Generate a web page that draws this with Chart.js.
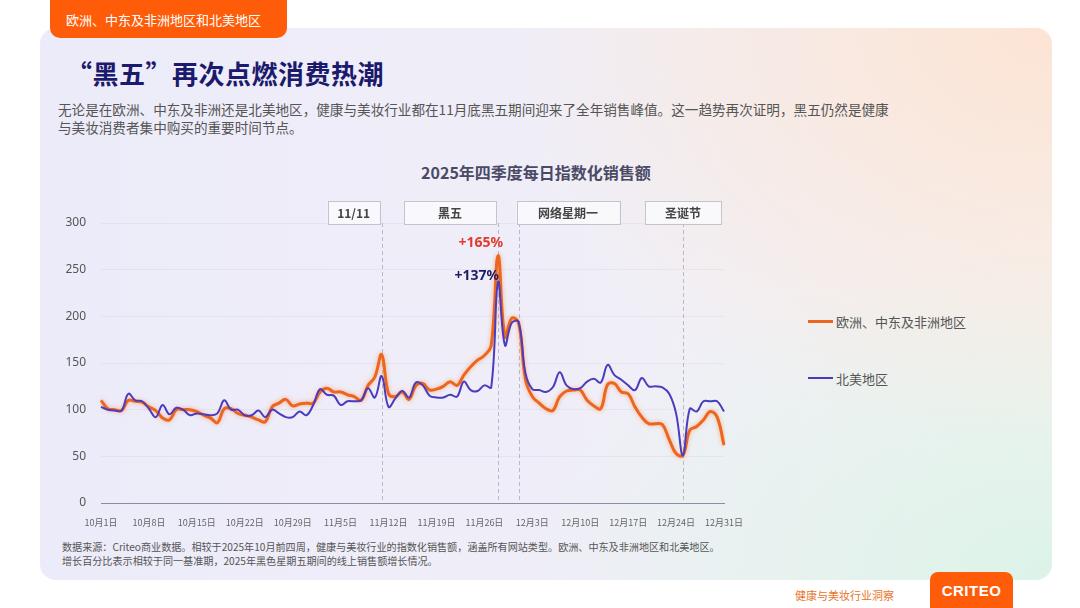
<!DOCTYPE html>
<html lang="zh">
<head>
    <meta charset="UTF-8">
    <title>“黑五”再次点燃消费热潮</title>
    <script src="https://cdn.jsdelivr.net/npm/chart.js"></script>
    <style>
        body {
            margin: 0;
            width: 1080px;
            height: 608px;
            overflow: hidden;
            background: #fff;
            font-family: "Noto Sans CJK SC", "Noto Sans", sans-serif;
        }

        .card {
            position: absolute;
            left: 40px;
            top: 28px;
            width: 1012px;
            height: 552px;
            border-radius: 16px;
            background:
                radial-gradient(ellipse 560px 420px at 100% 0%, rgba(252, 228, 212, 1), rgba(252, 228, 212, 0)),
                radial-gradient(ellipse 520px 340px at 100% 100%, rgba(220, 243, 232, 1), rgba(220, 243, 232, 0)),
                linear-gradient(90deg, #ecebf9 0%, #efeef8 50%, #f5f3f3 100%);
        }

        .tab {
            position: absolute;
            left: 50px;
            top: 0;
            width: 237px;
            height: 38px;
            background: #ff5c0a;
            border-radius: 0 0 10px 10px;
            color: #fff;
            font-size: 13px;
            line-height: 40px;
            padding-left: 16px;
            box-sizing: border-box;
            z-index: 2;
        }

        .title {
            position: absolute;
            left: 66px;
            top: 54px;
            font-size: 26px;
            font-weight: bold;
            color: #1c1a6c;
            letter-spacing: 0.5px;
        }

        .intro {
            position: absolute;
            left: 58px;
            top: 100px;
            font-size: 13.6px;
            line-height: 18px;
            color: #555;
        }

        .chart-title {
            position: absolute;
            left: 0;
            width: 1072px;
            top: 160px;
            text-align: center;
            font-size: 16px;
            font-weight: bold;
            color: #4a4a66;
        }

        .legend {
            position: absolute;
            left: 808px;
            top: 311px;
            font-size: 13px;
            color: #555;
        }

        .legend div {
            display: flex;
            align-items: center;
            height: 20px;
            margin-bottom: 37px;
        }

        .legend span.swatch {
            display: inline-block;
            width: 25px;
            margin-right: 3px;
        }

        .note {
            position: absolute;
            left: 62px;
            top: 540px;
            font-size: 10.1px;
            line-height: 14px;
            color: #555;
        }

        .footer-text {
            position: absolute;
            left: 795px;
            top: 587px;
            font-size: 11px;
            color: #e8742a;
        }

        .logo {
            position: absolute;
            left: 930px;
            top: 572px;
            width: 83px;
            height: 36px;
            background: #ff5c0a;
            border-radius: 8px 8px 0 0;
            color: #fff;
            font-family: "Liberation Sans", Arial, sans-serif;
            font-weight: bold;
            font-size: 15px;
            line-height: 38px;
            text-align: center;
            letter-spacing: 0.5px;
        }

        .chart-wrap {
            position: absolute;
            left: 0;
            top: 0;
            width: 1080px;
            height: 608px;
            pointer-events: none;
        }
    </style>
</head>
<body>
    <div class="card"></div>
    <div class="tab">欧洲、中东及非洲地区和北美地区</div>

    <div class="title">“黑五”再次点燃消费热潮</div>
    <div class="intro">
        无论是在欧洲、中东及非洲还是北美地区，健康与美妆行业都在11月底黑五期间迎来了全年销售峰值。这一趋势再次证明，黑五仍然是健康<br>
        与美妆消费者集中购买的重要时间节点。
    </div>

    <div class="chart-title">2025年四季度每日指数化销售额</div>

    <div class="legend" id="legend"></div>

    <div class="note">
        数据来源：Criteo商业数据。相较于2025年10月前四周，健康与美妆行业的指数化销售额，涵盖所有网站类型。欧洲、中东及非洲地区和北美地区。<br>
        增长百分比表示相较于同一基准期，2025年黑色星期五期间的线上销售额增长情况。
    </div>

    <div class="footer-text">健康与美妆行业洞察</div>
    <div class="logo">CRITEO</div>

    <div class="chart-wrap">
        <canvas id="salesChart"></canvas>
    </div>

    <script>
        // Categories: every day of Q4 2025
        const months = [10, 11, 12];
        const monthDays = [31, 30, 31];
        const days = [];
        months.forEach((m, k) => {
            for (let d = 1; d <= monthDays[k]; d++) days.push(m + '月' + d + '日');
        });

        // Indexed daily sales
        const emeaName = '欧洲、中东及非洲地区';
        const emeaValues = [
            110, 101, 100, 99, 110, 109, 108, 103, 99, 91, 89, 100, 100, 100, 98, 94, 91, 86, 101, 101,
            96, 94, 92, 89, 87, 103, 107, 111, 104, 106, 107, 107, 119, 123, 119, 119, 116, 114, 110, 126,
            135, 159, 117, 114, 119, 111, 126, 128, 121, 122, 125, 130, 126, 137, 146, 153, 158, 169, 265, 178,
            198, 193, 132, 114, 107, 101, 99, 114, 120, 121, 121, 110, 104, 101, 127, 128, 119, 117, 103, 92,
            85, 85, 84, 68, 53, 51, 78, 82, 89, 98, 92, 62
        ];
        const naName = '北美地区';
        const naValues = [
            103, 100, 99, 99, 117, 110, 109, 101, 92, 105, 95, 102, 100, 94, 96, 95, 94, 96, 110, 100,
            100, 94, 94, 99, 92, 100, 96, 92, 92, 98, 94, 105, 122, 116, 115, 105, 109, 109, 110, 123,
            113, 136, 103, 112, 120, 113, 129, 126, 115, 113, 113, 116, 114, 130, 121, 120, 126, 124, 237, 169,
            193, 194, 139, 122, 121, 119, 124, 140, 126, 122, 123, 130, 133, 129, 148, 137, 132, 126, 121, 134,
            125, 125, 124, 117, 96, 51, 101, 98, 109, 109, 109, 98
        ];

        const yTicks = [0, 50, 100, 150, 200, 250, 300];

        // Marked dates (index into days) and their labels
        const eventDays = [41, 58, 61, 85];
        const eventNames = ['11/11', '黑五', '网络星期一', '圣诞节'];

        // Peak growth labels
        const peakDay = 58;
        const emeaPeakLabel = '+165%';
        const naPeakLabel = '+137%';

        const emeaColor = '#ec6620';
        const naColor = '#4a3cbc';

        // legend
        const legend = document.getElementById('legend');
        [[emeaName, emeaColor, 3], [naName, naColor, 2]].forEach(([name, color, w]) => {
            const row = document.createElement('div');
            row.innerHTML = '<span class="swatch" style="border-top:' + w + 'px solid ' + color + '"></span>' + name;
            legend.appendChild(row);
        });

        // event boxes + dashed lines
        const eventPlugin = {
            id: 'events',
            beforeDatasetsDraw(chart) {
                const { ctx, chartArea, scales } = chart;
                ctx.save();
                ctx.strokeStyle = 'rgba(140,140,165,0.55)';
                ctx.lineWidth = 1;
                ctx.setLineDash([4, 3]);
                eventDays.forEach(d => {
                    const x = Math.round(scales.x.getPixelForValue(d)) + 0.5;
                    ctx.beginPath();
                    ctx.moveTo(x, chartArea.top);
                    ctx.lineTo(x, chartArea.bottom);
                    ctx.stroke();
                });
                ctx.restore();
            },
            afterDatasetsDraw(chart) {
                const { ctx, chartArea, scales } = chart;
                const widths = [52, 92, 103, 76];
                const anchors = ['right', 'right', 'left', 'center'];
                ctx.save();
                eventDays.forEach((d, k) => {
                    const x = scales.x.getPixelForValue(d);
                    let left = x - widths[k] / 2;
                    if (anchors[k] === 'right') left = x - widths[k] - 2;
                    if (anchors[k] === 'left') left = x - 2;
                    const top = chartArea.top - 22;
                    ctx.fillStyle = 'rgba(250,250,253,0.9)';
                    ctx.strokeStyle = '#c4c4cc';
                    ctx.lineWidth = 1;
                    ctx.fillRect(left, top, widths[k], 23);
                    ctx.strokeRect(Math.round(left) + 0.5, top + 0.5, widths[k], 23);
                    ctx.fillStyle = '#444';
                    ctx.font = 'bold 12px "Noto Sans CJK SC", sans-serif';
                    ctx.textAlign = 'center';
                    ctx.textBaseline = 'middle';
                    ctx.fillText(eventNames[k], left + widths[k] / 2, top + 12);
                });

                // peak labels
                const px = scales.x.getPixelForValue(peakDay);
                ctx.font = 'bold 14px "Noto Sans", sans-serif';
                ctx.textAlign = 'right';
                ctx.textBaseline = 'middle';
                ctx.fillStyle = '#e23a2c';
                ctx.fillText(emeaPeakLabel, px + 5, scales.y.getPixelForValue(emeaValues[peakDay]) - 13);
                ctx.fillStyle = '#1f1d66';
                ctx.fillText(naPeakLabel, px + 1, scales.y.getPixelForValue(naValues[peakDay]) - 6);
                ctx.restore();
            }
        };

        // soft glow under the orange line
        const glowPlugin = {
            id: 'glow',
            beforeDatasetDraw(chart, args) {
                if (args.index === 0) {
                    chart.ctx.save();
                    chart.ctx.shadowColor = 'rgba(255,120,40,0.55)';
                    chart.ctx.shadowBlur = 4;
                }
            },
            afterDatasetDraw(chart, args) {
                if (args.index === 0) chart.ctx.restore();
            }
        };

        new Chart(document.getElementById('salesChart'), {
            type: 'line',
            data: {
                labels: days,
                datasets: [{
                    label: emeaName,
                    data: emeaValues,
                    borderColor: emeaColor,
                    borderWidth: 3,
                    tension: 0.4,
                    pointRadius: 0,
                    order: 1
                }, {
                    label: naName,
                    data: naValues,
                    borderColor: naColor,
                    borderWidth: 2,
                    tension: 0.4,
                    pointRadius: 0,
                    order: 0
                }]
            },
            options: {
                responsive: true,
                maintainAspectRatio: false,
                animation: false,
                layout: { padding: { left: 60, right: 356, top: 223, bottom: 80 } },
                plugins: {
                    legend: { display: false },
                    tooltip: { enabled: false }
                },
                scales: {
                    x: {
                        offset: false,
                        grid: { display: false },
                        border: { display: true, color: '#8c8ca6', width: 1 },
                        ticks: {
                            autoSkip: false,
                            maxRotation: 0,
                            padding: 6,
                            color: '#666',
                            font: { size: 9, family: '"Noto Sans CJK SC", sans-serif' },
                            callback: (v, i) => (i % 7 === 0 ? days[i] : '')
                        },
                        afterFit: axis => { axis.height = 25; }
                    },
                    y: {
                        min: 0,
                        max: 300,
                        afterBuildTicks: axis => { axis.ticks = yTicks.map(v => ({ value: v })); },
                        grid: { color: 'rgba(120,120,150,0.08)', drawTicks: false },
                        border: { display: false },
                        ticks: {
                            padding: 15,
                            color: '#555',
                            font: { size: 12, family: '"Noto Sans", sans-serif' }
                        },
                        afterFit: axis => { axis.width = 41; }
                    }
                }
            },
            plugins: [eventPlugin, glowPlugin]
        });
    </script>
</body>
</html>
